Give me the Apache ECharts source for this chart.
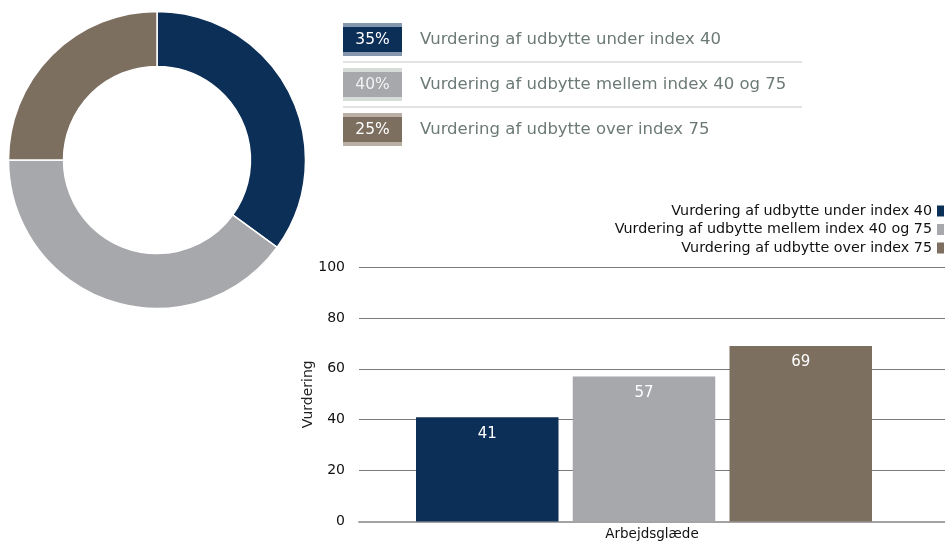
<!DOCTYPE html>
<html>
<head>
<meta charset="utf-8">
<script src="https://cdn.jsdelivr.net/npm/echarts@6/dist/echarts.min.js"></script>
<style>
  html, body { margin: 0; padding: 0; background: #ffffff; }
  #chart { width: 945px; height: 543px; }
</style>
</head>
<body>
<div id="chart"></div>
<script>
// Dividend rating groups
const groupNames = [
  'Vurdering af udbytte under index 40',
  'Vurdering af udbytte mellem index 40 og 75',
  'Vurdering af udbytte over index 75'
];
// Share of respondents in each group (%)
const groupShares = [35, 40, 25];
// Bar chart category and average rating per group
const categories = ['Arbejdsglæde'];
const ratingValues = [41, 57, 69];
// Value axis range
const axisMin = 0;
const axisMax = 100;
const axisStep = 20;

const colors = ['#0c2f57', '#a7a8ab', '#7c6f5f'];
const stripColors = ['#8597ad', '#d6ddd9', '#b9afa5'];
const FONT = 'DejaVu Sans';

// Custom percentage legend next to the donut
const legendGraphics = [];
groupNames.forEach(function (name, i) {
  const top = 23 + i * 45;
  legendGraphics.push({
    type: 'rect', left: 343, top: top,
    shape: { width: 59, height: 33 },
    style: { fill: stripColors[i] }
  });
  legendGraphics.push({
    type: 'rect', left: 343, top: top + 4,
    shape: { width: 59, height: 25 },
    style: { fill: colors[i] }
  });
  legendGraphics.push({
    type: 'text', x: 372.5, y: top + 16.5,
    style: {
      text: groupShares[i] + '%', fill: i === 1 ? '#f2f2f2' : '#ffffff',
      font: '15.5px "' + FONT + '"', align: 'center', verticalAlign: 'middle'
    }
  });
  legendGraphics.push({
    type: 'text', x: 420, y: top + 16.5,
    style: {
      text: name, fill: '#6c7a77',
      font: '16.5px "' + FONT + '"', align: 'left', verticalAlign: 'middle'
    }
  });
  if (i < groupNames.length - 1) {
    legendGraphics.push({
      type: 'rect', left: 343, top: top + 38,
      shape: { width: 459, height: 2 },
      style: { fill: '#e3e3e3' }
    });
  }
});

const chart = echarts.init(document.getElementById('chart'));

const barSeries = groupNames.map(function (name, i) {
  return {
    type: 'bar',
    name: name,
    xAxisIndex: 0,
    yAxisIndex: 0,
    data: [ratingValues[i]],
    barGap: '10%',
    barCategoryGap: '20%',
    itemStyle: { color: colors[i] },
    label: {
      show: true, position: 'insideTop', distance: 9,
      color: '#ffffff', fontFamily: FONT, fontSize: 15
    }
  };
});

chart.setOption({
  animation: false,
  backgroundColor: '#ffffff',
  textStyle: { fontFamily: FONT },
  graphic: legendGraphics,
  legend: {
    data: groupNames,
    orient: 'vertical',
    right: 1,
    top: 204,
    padding: 0,
    align: 'right',
    itemWidth: 7,
    itemHeight: 11,
    itemGap: 4.5,
    icon: 'rect',
    textStyle: { fontFamily: FONT, fontSize: 14.3, color: '#111111' },
    selectedMode: false
  },
  grid: [
    { left: 359, right: 16, top: 267, bottom: 21.5 },
    { left: 359, right: 0, top: 267, bottom: 21.5 }
  ],
  xAxis: [
    {
      type: 'category', gridIndex: 0, data: categories,
      axisLine: { show: false }, axisTick: { show: false },
      axisLabel: { show: false }
    },
    {
      type: 'category', gridIndex: 1, data: categories,
      axisLine: { show: true, lineStyle: { color: '#a3a3a3', width: 2 } },
      axisTick: { show: false },
      axisLabel: { color: '#111111', fontFamily: FONT, fontSize: 13.5, margin: 6 }
    }
  ],
  yAxis: [
    {
      type: 'value', gridIndex: 0, min: axisMin, max: axisMax, interval: axisStep,
      axisLine: { show: false }, axisTick: { show: false },
      axisLabel: { show: false }, splitLine: { show: false }
    },
    {
      type: 'value', gridIndex: 1, min: axisMin, max: axisMax, interval: axisStep,
      name: 'Vurdering', nameLocation: 'middle', nameGap: 44,
      nameMoveOverlap: false,
      nameTextStyle: { color: '#222222', fontFamily: FONT, fontSize: 14 },
      axisLine: { show: false }, axisTick: { show: false },
      axisLabel: { color: '#111111', fontFamily: FONT, fontSize: 14, margin: 14 },
      splitLine: { show: true, lineStyle: { color: '#7a7a7a', width: 1 } }
    }
  ],
  series: barSeries.concat([{
    type: 'pie',
    center: [157, 160],
    radius: [93.5, 148.5],
    startAngle: 90,
    clockwise: true,
    silent: true,
    label: { show: false },
    labelLine: { show: false },
    itemStyle: { borderColor: '#ffffff', borderWidth: 1.5 },
    data: groupNames.map(function (name, i) {
      return { name: name, value: groupShares[i], itemStyle: { color: colors[i] } };
    })
  }])
});
</script>
</body>
</html>
